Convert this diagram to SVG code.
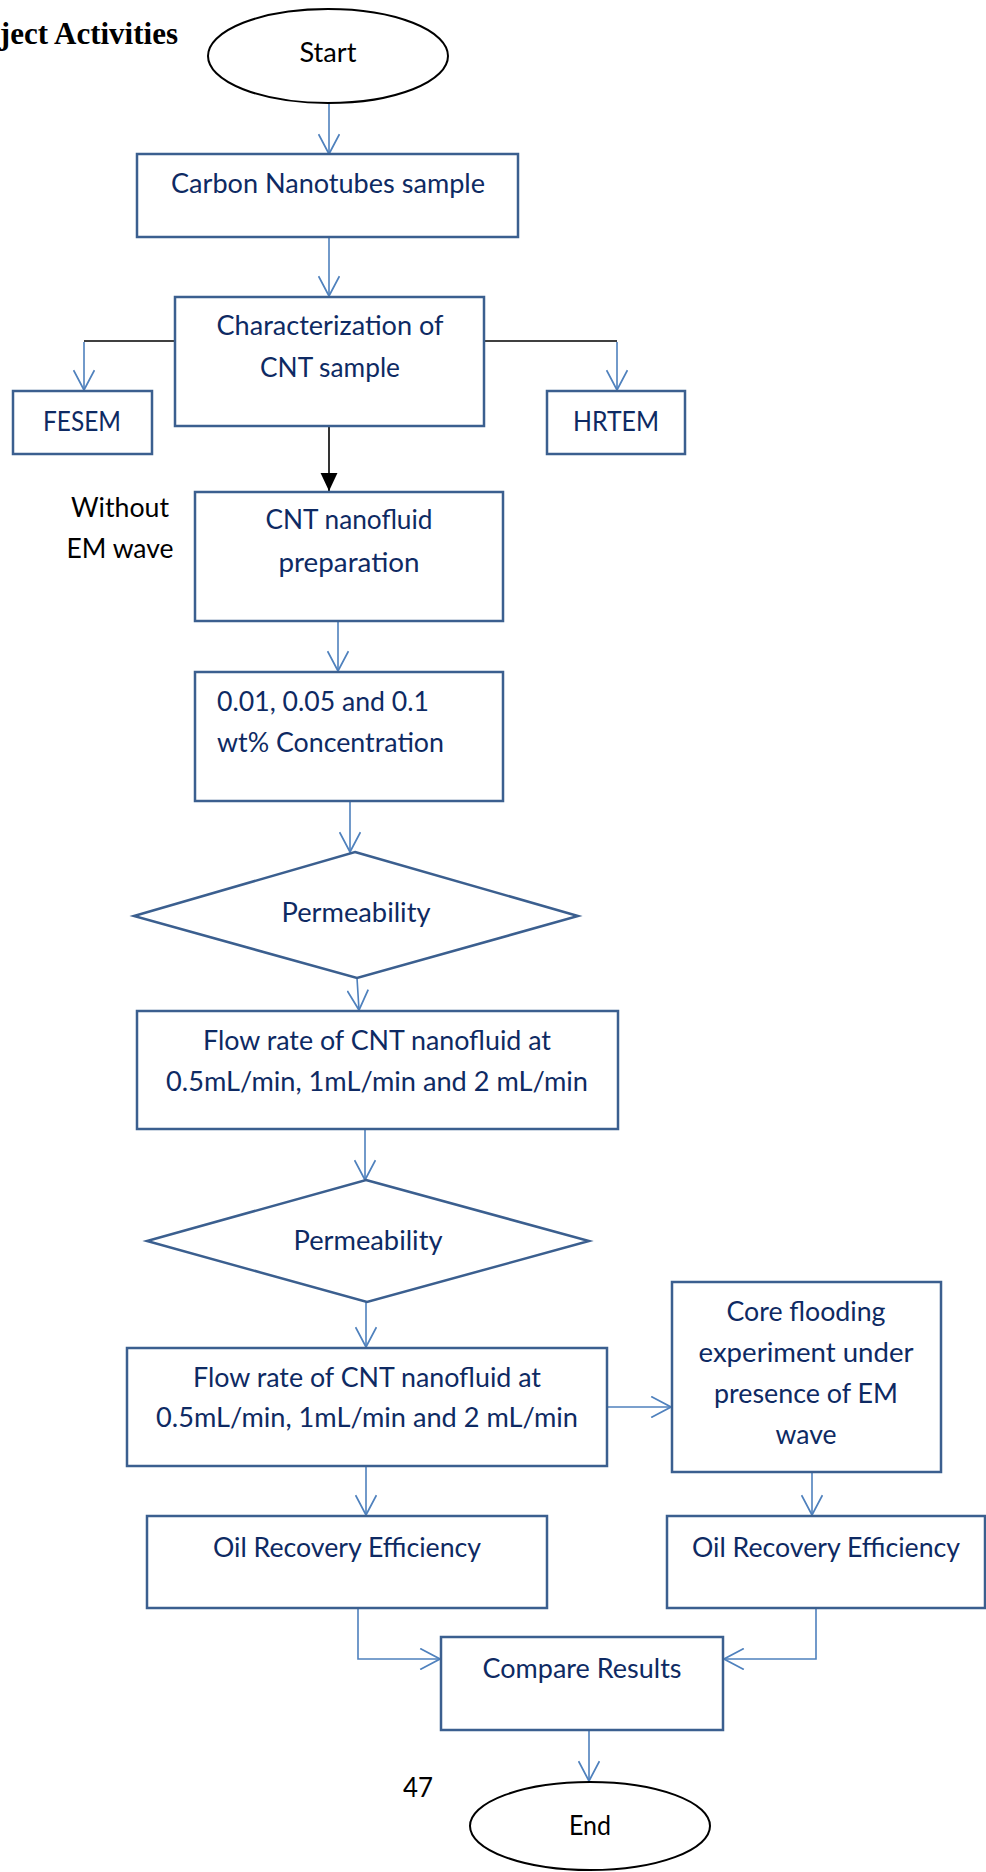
<svg xmlns="http://www.w3.org/2000/svg" width="986" height="1872" viewBox="0 0 986 1872">
<style>
.bg{fill:#ffffff}
.box{fill:#ffffff;stroke:#3B5F8F;stroke-width:2.5}
.term{fill:#ffffff;stroke:#000000;stroke-width:2}
.t{font-family:Lato,"Open Sans","Liberation Sans",sans-serif;font-size:26px;fill:#0E2A63;text-anchor:middle}
.tl{text-anchor:start}
.k{fill:#000000}
.title{font-family:"Liberation Serif","Times New Roman",serif;font-size:31px;font-weight:bold;fill:#000000;text-anchor:end}
.c{fill:none;stroke:#4F81BD;stroke-width:1.6}
.cb{fill:none;stroke:#000000;stroke-width:1.6}
</style>
<defs>
<marker id="open" markerUnits="userSpaceOnUse" markerWidth="22" markerHeight="22" viewBox="0 0 20 20" refX="19" refY="10" orient="auto">
<path d="M1,0.5 L19,10 L1,19.5" fill="none" stroke="#4F81BD" stroke-width="1.6"/>
</marker>
<marker id="solid" markerUnits="userSpaceOnUse" markerWidth="18" markerHeight="18" viewBox="0 0 16 16" refX="16" refY="8" orient="auto">
<path d="M0,0.5 L16,8 L0,15.5 Z" fill="#000000"/>
</marker>
</defs>
<rect class="bg" x="0" y="0" width="986" height="1872"/>
<text class="title" x="178" y="44">ject Activities</text>

<g id="connectors">
<line class="c" x1="329" y1="103" x2="329" y2="154" marker-end="url(#open)"/>
<line class="c" x1="329" y1="237" x2="329" y2="296" marker-end="url(#open)"/>
<polyline class="cb" points="175,341 84,341"/>
<line class="c" x1="84" y1="342" x2="84" y2="390" marker-end="url(#open)"/>
<polyline class="cb" points="484,341 617,341"/>
<line class="c" x1="617" y1="342" x2="617" y2="390" marker-end="url(#open)"/>
<line class="cb" x1="329" y1="426" x2="329" y2="491" marker-end="url(#solid)"/>
<line class="c" x1="338" y1="621" x2="338" y2="671" marker-end="url(#open)"/>
<line class="c" x1="350" y1="801" x2="350" y2="852" marker-end="url(#open)"/>
<line class="c" x1="357" y1="978" x2="359" y2="1010" marker-end="url(#open)"/>
<line class="c" x1="365" y1="1129" x2="365" y2="1180" marker-end="url(#open)"/>
<line class="c" x1="366" y1="1302" x2="366" y2="1347" marker-end="url(#open)"/>
<line class="c" x1="607" y1="1407" x2="671" y2="1407" marker-end="url(#open)"/>
<line class="c" x1="366" y1="1466" x2="366" y2="1515" marker-end="url(#open)"/>
<line class="c" x1="812" y1="1472" x2="812" y2="1515" marker-end="url(#open)"/>
<polyline class="c" points="358,1608 358,1659 440,1659" marker-end="url(#open)"/>
<polyline class="c" points="816,1608 816,1659 724,1659" marker-end="url(#open)"/>
<line class="c" x1="589" y1="1730" x2="589" y2="1781" marker-end="url(#open)"/>
</g>

<g id="start">
<ellipse class="term" cx="328" cy="56" rx="120" ry="47"/>
<text class="t k" x="328" y="62" textLength="57" lengthAdjust="spacingAndGlyphs">Start</text>
</g>
<g id="carbon">
<rect class="box" x="137" y="154" width="381" height="83"/>
<text class="t" x="328" y="193" textLength="314" lengthAdjust="spacingAndGlyphs">Carbon Nanotubes sample</text>
</g>
<g id="characterization">
<rect class="box" x="175" y="297" width="309" height="129"/>
<text class="t" x="330" y="335" textLength="227" lengthAdjust="spacingAndGlyphs">Characterization of</text>
<text class="t" x="330" y="377" textLength="140" lengthAdjust="spacingAndGlyphs">CNT sample</text>
</g>
<g id="fesem">
<rect class="box" x="13" y="391" width="139" height="63"/>
<text class="t" x="82" y="431" textLength="78" lengthAdjust="spacingAndGlyphs">FESEM</text>
</g>
<g id="hrtem">
<rect class="box" x="547" y="391" width="138" height="63"/>
<text class="t" x="616" y="431" textLength="86" lengthAdjust="spacingAndGlyphs">HRTEM</text>
</g>
<g id="without-label">
<text class="t k" x="120" y="517" textLength="98" lengthAdjust="spacingAndGlyphs">Without</text>
<text class="t k" x="120" y="558" textLength="107" lengthAdjust="spacingAndGlyphs">EM wave</text>
</g>
<g id="preparation">
<rect class="box" x="195" y="492" width="308" height="129"/>
<text class="t" x="349" y="529" textLength="167" lengthAdjust="spacingAndGlyphs">CNT nanofluid</text>
<text class="t" x="349" y="572" textLength="141" lengthAdjust="spacingAndGlyphs">preparation</text>
</g>
<g id="concentration">
<rect class="box" x="195" y="672" width="308" height="129"/>
<text class="t tl" x="217" y="711" textLength="212" lengthAdjust="spacingAndGlyphs">0.01, 0.05 and 0.1</text>
<text class="t tl" x="217" y="752" textLength="227" lengthAdjust="spacingAndGlyphs">wt% Concentration</text>
</g>
<g id="permeability1">
<polygon class="box" points="355,852 578,916 357,978 134,916"/>
<text class="t" x="356" y="922" textLength="149" lengthAdjust="spacingAndGlyphs">Permeability</text>
</g>
<g id="flow1">
<rect class="box" x="137" y="1011" width="481" height="118"/>
<text class="t" x="377" y="1050" textLength="348" lengthAdjust="spacingAndGlyphs">Flow rate of CNT nanofluid at</text>
<text class="t" x="377" y="1091" textLength="422" lengthAdjust="spacingAndGlyphs">0.5mL/min, 1mL/min and 2 mL/min</text>
</g>
<g id="permeability2">
<polygon class="box" points="366,1180 589,1241 367,1302 147,1241"/>
<text class="t" x="368" y="1250" textLength="149" lengthAdjust="spacingAndGlyphs">Permeability</text>
</g>
<g id="flow2">
<rect class="box" x="127" y="1348" width="480" height="118"/>
<text class="t" x="367" y="1387" textLength="348" lengthAdjust="spacingAndGlyphs">Flow rate of CNT nanofluid at</text>
<text class="t" x="367" y="1427" textLength="422" lengthAdjust="spacingAndGlyphs">0.5mL/min, 1mL/min and 2 mL/min</text>
</g>
<g id="coreflooding">
<rect class="box" x="672" y="1282" width="269" height="190"/>
<text class="t" x="806" y="1321" textLength="159" lengthAdjust="spacingAndGlyphs">Core flooding</text>
<text class="t" x="806" y="1362" textLength="215" lengthAdjust="spacingAndGlyphs">experiment under</text>
<text class="t" x="806" y="1403" textLength="184" lengthAdjust="spacingAndGlyphs">presence of EM</text>
<text class="t" x="806" y="1444" textLength="61" lengthAdjust="spacingAndGlyphs">wave</text>
</g>
<g id="oil1">
<rect class="box" x="147" y="1516" width="400" height="92"/>
<text class="t" x="347" y="1557" textLength="268" lengthAdjust="spacingAndGlyphs">Oil Recovery Efficiency</text>
</g>
<g id="oil2">
<rect class="box" x="667" y="1516" width="318" height="92"/>
<text class="t" x="826" y="1557" textLength="268" lengthAdjust="spacingAndGlyphs">Oil Recovery Efficiency</text>
</g>
<g id="compare">
<rect class="box" x="441" y="1637" width="282" height="93"/>
<text class="t" x="582" y="1678" textLength="199" lengthAdjust="spacingAndGlyphs">Compare Results</text>
</g>
<g id="pagenum">
<text class="t k tl" x="403" y="1797" textLength="30" lengthAdjust="spacingAndGlyphs">47</text>
</g>
<g id="end">
<ellipse class="term" cx="590" cy="1826" rx="120" ry="44"/>
<text class="t k" x="590" y="1835" textLength="42" lengthAdjust="spacingAndGlyphs">End</text>
</g>
</svg>
